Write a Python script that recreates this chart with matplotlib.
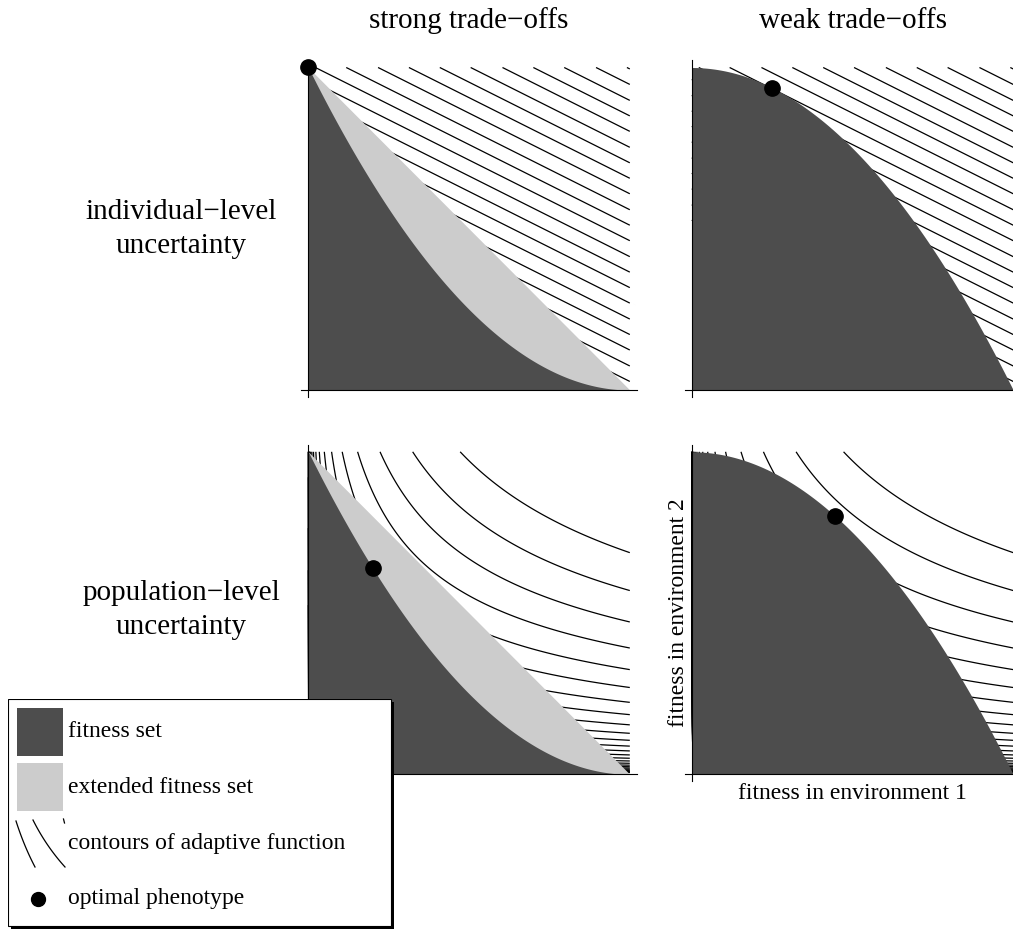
import numpy as np
import matplotlib
matplotlib.use("Agg")
import matplotlib.pyplot as plt
from matplotlib.patches import Rectangle

plt.rcParams['font.family'] = ['Liberation Serif', 'DejaVu Serif']

W, H = 1013, 930

# labels
col_titles = ["strong trade\u2212offs", "weak trade\u2212offs"]
row_labels = ["individual\u2212level\nuncertainty", "population\u2212level\nuncertainty"]
xlabel = "fitness in environment 1"
ylabel = "fitness in environment 2"
legend_labels = ["fitness set", "extended fitness set",
                 "contours of adaptive function", "optimal phenotype"]

# model: frequency of environment 1, trade-off exponents
p_env1 = 1 / 3
strong_exp = 2.0   # boundary y = (1 - x)^2
weak_exp = 2.0     # boundary y = 1 - x^2

# optimal phenotypes, [row][col]
opt_x = [[0.0, 0.25], [0.2, 0.447]]
opt_y = [[1.0, 0.9375], [0.64, 0.8]]

# contour levels of the adaptive functions
arith_levels = [0.351, 0.383, 0.416, 0.448, 0.480, 0.513, 0.545, 0.577, 0.609,
                0.642, 0.674, 0.706, 0.739, 0.771, 0.803, 0.835, 0.868, 0.900,
                0.932, 0.965, 0.997]
geo_levels = [-3.5, -3.375, -3.25, -3.125, -3.0, -2.875, -2.75, -2.625, -2.5,
              -2.375, -2.25, -2.125, -2.0, -1.875, -1.75, -1.625, -1.5, -1.375,
              -1.25, -1.125, -1.0, -0.875, -0.75, -0.625, -0.5, -0.375, -0.25]

dark = '#4d4d4d'
light = '#cccccc'

fig = plt.figure(figsize=(W / 100, H / 100), dpi=100)

pad = 0.022
sx, sy = 321.5, 322.5
origins = [[(308.3, 390.0), (691.7, 390.0)],
           [(308.3, 774.3), (691.7, 774.3)]]

g = np.linspace(1e-4, 1.0, 900)
X, Y = np.meshgrid(g, g)
xs = np.linspace(0, 1, 600)

for r in range(2):
    for c in range(2):
        ox, oy = origins[r][c]
        left = (ox - pad * sx) / W
        bottom = (H - (oy + pad * sy)) / H
        ax = fig.add_axes([left, bottom, (1 + 2 * pad) * sx / W, (1 + 2 * pad) * sy / H])
        if r == 0:
            Z = p_env1 * X + (1 - p_env1) * Y
            levels = arith_levels
        else:
            Z = p_env1 * np.log(X) + (1 - p_env1) * np.log(Y)
            levels = geo_levels
        ax.contour(X, Y, Z, levels=levels, colors='black', linewidths=0.9,
                   linestyles='solid', zorder=1)
        if c == 0:
            ax.fill_between(xs, 0, 1 - xs, color=light, lw=0, zorder=2)
            ax.fill_between(xs, 0, (1 - xs) ** strong_exp, color=dark, lw=0, zorder=3)
        else:
            ax.fill_between(xs, 0, 1 - xs ** weak_exp, color=dark, lw=0, zorder=3)
        ax.plot([opt_x[r][c]], [opt_y[r][c]], 'o', color='black', ms=11,
                zorder=6, clip_on=False)

        ax.set_xlim(-pad, 1 + pad)
        ax.set_ylim(-pad, 1 + pad)
        ax.patch.set_visible(False)
        for s in ['top', 'right']:
            ax.spines[s].set_visible(False)
        for s in ['left', 'bottom']:
            ax.spines[s].set_position(('data', 0))
            ax.spines[s].set_linewidth(0.8)
            ax.spines[s].set_zorder(5)
        ax.set_xticks(np.arange(1, 11) * 0.0965)
        ax.set_yticks(np.arange(1, 21) * 0.04825)
        ax.tick_params(direction='in', length=2, width=0.5,
                       labelbottom=False, labelleft=False)

# column titles and row labels
fig.text(469 / W, 1 - 28 / H, col_titles[0], ha='center', va='baseline', fontsize=21)
fig.text(853 / W, 1 - 28 / H, col_titles[1], ha='center', va='baseline', fontsize=21)
fig.text(181 / W, 1 - 229 / H, row_labels[0], ha='center', va='center',
         fontsize=21, linespacing=1.38)
fig.text(181 / W, 1 - 610 / H, row_labels[1], ha='center', va='center',
         fontsize=21, linespacing=1.38)

# axis labels on bottom-right panel
fig.text(852 / W, 1 - 793 / H, xlabel, ha='center', va='center', fontsize=17)
fig.text(678 / W, 1 - 613 / H, ylabel, ha='center', va='center', fontsize=17,
         rotation=90)

# legend box
lax = fig.add_axes([8 / W, 0, 387 / W, 231 / H])
lax.set_xlim(0, 387)
lax.set_ylim(231, 0)
lax.axis('off')
lax.add_patch(Rectangle((3, 3), 383, 227, facecolor='black', edgecolor='none'))
lax.add_patch(Rectangle((0, 0), 383, 227, facecolor='white', edgecolor='black', lw=0.8))
lax.add_patch(Rectangle((8.7, 8.7), 46, 48, facecolor=dark, edgecolor='none'))
lax.add_patch(Rectangle((8.7, 63.7), 46, 48, facecolor=light, edgecolor='none'))
t = np.linspace(0, 1, 40)
for (x0, y0), (x1, y1), (x2, y2) in [((8, 122), (16, 147), (27, 168)),
                                      ((25, 121), (38, 147), (57, 168))]:
    lax.plot((1 - t) ** 2 * x0 + 2 * (1 - t) * t * x1 + t ** 2 * x2,
             (1 - t) ** 2 * y0 + 2 * (1 - t) * t * y1 + t ** 2 * y2,
             color='black', lw=0.9)
lax.plot([55.5, 56.5], [120, 124], color='black', lw=0.9)
lax.plot([30.3], [200.3], 'o', color='black', ms=10)
for yy, lab in zip([32.7, 88.3, 144.3, 199.3], legend_labels):
    lax.text(60.3, yy, lab, ha='left', va='center', fontsize=17)

fig.savefig('out.png', dpi=100)
